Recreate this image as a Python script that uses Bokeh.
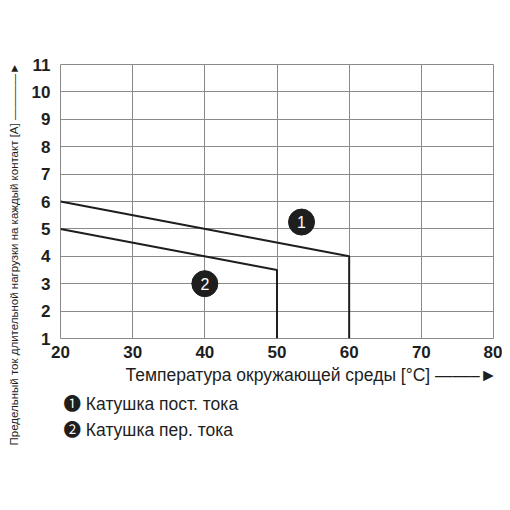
from bokeh.plotting import figure
from bokeh.models import FixedTicker, Title
from bokeh.core.properties import value
from bokeh.embed import file_html
from bokeh.resources import INLINE

# data
temp_dc = [20, 60, 60]
current_dc = [6, 4, 1]
temp_ac = [20, 50, 50]
current_ac = [5, 3.5, 1]
series_names = ["Катушка пост. тока", "Катушка пер. тока"]
series_marks = ["1", "2"]
legend_glyphs = ["\u2776", "\u2777"]
mark_x = [53.4, 40]
mark_y = [5.25, 3.0]
x_ticks = [20, 30, 40, 50, 60, 70, 80]
y_ticks = [1, 2, 3, 4, 5, 6, 7, 8, 9, 10, 11]
x_title = "Температура окружающей среды [°C]"
y_title = "Предельный ток длительной нагрузки на каждый контакт [A]"

FONT = "Liberation Sans, Noto Sans CJK JP, DejaVu Sans"
GRID = "#8a8a8a"
INK = "#1e1e1e"

p = figure(width=502, height=502, x_range=(20, 80), y_range=(1, 11),
           output_backend="svg", toolbar_location=None,
           min_border_left=60, min_border_top=64, min_border_right=9, min_border_bottom=164)

p.outline_line_color = GRID
p.outline_line_width = 1

for ax in (p.xaxis[0], p.yaxis[0]):
    ax.axis_line_color = None
    ax.major_tick_line_color = None
    ax.minor_tick_line_color = None
    ax.major_tick_out = 0
    ax.major_tick_in = 0
    ax.minor_tick_out = 0
    ax.major_label_text_font = FONT
    ax.major_label_text_font_style = "bold"
    ax.major_label_text_font_size = "17px"
    ax.major_label_text_color = INK
p.xaxis.ticker = FixedTicker(ticks=x_ticks)
p.yaxis.ticker = FixedTicker(ticks=y_ticks)
p.xaxis.major_label_standoff = 7
p.yaxis.major_label_standoff = 10

p.xgrid.ticker = FixedTicker(ticks=x_ticks)
p.ygrid.ticker = FixedTicker(ticks=y_ticks)
p.grid.grid_line_color = GRID
p.grid.grid_line_width = 1

p.line(temp_dc, current_dc, line_color=INK, line_width=2)
p.line(temp_ac, current_ac, line_color=INK, line_width=2)

p.scatter(mark_x, mark_y, marker="circle", size=26, fill_color=INK, line_color=INK)
p.text(mark_x, mark_y, text=series_marks, text_color="white", text_font=value(FONT),
       text_font_size="16px", text_align="center", text_baseline="middle")

# axis titles (with their arrows) and the legend sit in the side panels
p.add_layout(Title(text=y_title + " \u2014\u2014\u2014\u2014\u25ba", align="left", offset=-107,
                   standoff=14, vertical_align="top", text_font=FONT, text_font_size="11.5px",
                   text_font_style="normal", text_color=INK), "left")

p.add_layout(Title(text=x_title + " \u2014\u2014\u2013\u25ba", align="left", offset=65,
                   standoff=5, text_font=FONT, text_font_size="17.5px",
                   text_font_style="normal", text_color=INK), "below")

for glyph, name, st in zip(legend_glyphs, series_names, [8, 0]):
    p.add_layout(Title(text=glyph + " " + name, align="left", offset=3, standoff=st,
                       text_font=FONT, text_font_size="17.5px", text_font_style="normal",
                       text_color=INK), "below")

open("out.html", "w").write(file_html(p, INLINE))
